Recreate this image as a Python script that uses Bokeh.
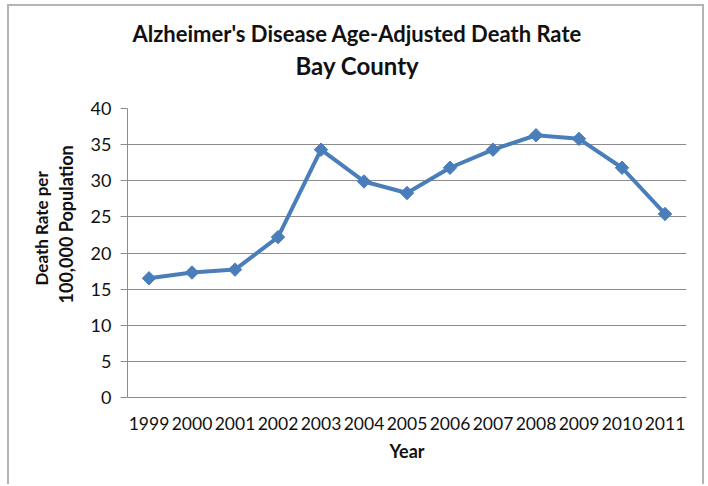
import math
from bokeh.plotting import figure
from bokeh.models import ColumnDataSource, Range1d, Title
from bokeh.embed import file_html
from bokeh.resources import INLINE

years = ["1999", "2000", "2001", "2002", "2003", "2004", "2005",
         "2006", "2007", "2008", "2009", "2010", "2011"]
rates = [16.5, 17.3, 17.7, 22.2, 34.3, 29.9, 28.3, 31.8, 34.3, 36.3, 35.8, 31.8, 25.4]
y_ticks = [0, 5, 10, 15, 20, 25, 30, 35, 40]

title_1 = "Alzheimer's Disease Age-Adjusted Death Rate"
title_2 = "Bay County"
y_label_1 = "Death Rate per"
y_label_2 = "100,000 Population"
x_label = "Year"

FONT = "Lato"
LINE_COLOR = "#4a7ebb"
GRID = "#8c8c8c"
TEXT = "#111111"

source = ColumnDataSource(data=dict(year=years, rate=rates))

p = figure(x_range=years, y_range=Range1d(0, 40), width=697, height=480,
           output_backend="svg", toolbar_location=None,
           min_border_left=118, min_border_right=20,
           min_border_top=102, min_border_bottom=89)
p.margin = (4, 1, 0, 7)
p.styles = {"border-top": "2px solid #b4b4b4", "border-left": "2px solid #b4b4b4",
            "border-right": "2px solid #b4b4b4"}
p.x_range.range_padding = 0
p.outline_line_color = None
p.background_fill_color = "white"
p.border_fill_color = "white"

p.xgrid.grid_line_color = None
p.ygrid.grid_line_color = GRID
p.ygrid.grid_line_width = 1

p.yaxis.ticker = y_ticks
p.yaxis.axis_line_color = GRID
p.yaxis.major_tick_line_color = GRID
p.yaxis.major_tick_out = 7
p.yaxis.major_tick_in = 0
p.yaxis.minor_tick_line_color = None
p.yaxis.major_label_standoff = 9
p.yaxis.major_label_text_font = FONT
p.yaxis.major_label_text_font_size = "18px"
p.yaxis.major_label_text_color = TEXT

p.xaxis.axis_line_color = GRID
p.xaxis.major_tick_line_color = None
p.xaxis.major_tick_out = 0
p.xaxis.major_tick_in = 0
p.xaxis.minor_tick_line_color = None
p.xaxis.major_label_standoff = 19
p.xaxis.major_label_text_font = FONT
p.xaxis.major_label_text_font_size = "17.5px"
p.xaxis.major_label_text_color = TEXT
p.xaxis.axis_label = x_label
p.xaxis.axis_label_text_font = FONT
p.xaxis.axis_label_text_font_size = "18px"
p.xaxis.axis_label_text_font_style = "bold"
p.xaxis.axis_label_text_color = TEXT
p.xaxis.axis_label_standoff = 7

p.line(x="year", y="rate", source=source, line_color=LINE_COLOR, line_width=4)
p.scatter(x="year", y="rate", source=source, marker="square", angle=math.pi / 4,
          size=9.5, fill_color=LINE_COLOR, line_color=LINE_COLOR)

# titles above: first added sits nearest the plot (a blank spacer first)
p.add_layout(Title(text=" ", text_font_size="10px", standoff=16), "above")
p.add_layout(Title(text=title_2, align="left", offset=168, standoff=0,
                   text_font=FONT, text_font_size="24px", text_font_style="bold",
                   text_color=TEXT), "above")
p.add_layout(Title(text=title_1, align="left", offset=5, standoff=4,
                   text_font=FONT, text_font_size="22px", text_font_style="bold",
                   text_color=TEXT), "above")

# y-axis label as two left titles, inner line first
p.add_layout(Title(text=y_label_2, align="left", offset=94, standoff=22,
                   text_font=FONT, text_font_size="18px", text_font_style="bold",
                   text_color=TEXT), "left")
p.add_layout(Title(text=y_label_1, align="left", offset=112, standoff=-20,
                   text_font=FONT, text_font_size="17px", text_font_style="bold",
                   text_color=TEXT), "left")

open("out.html", "w").write(file_html(p, INLINE))
